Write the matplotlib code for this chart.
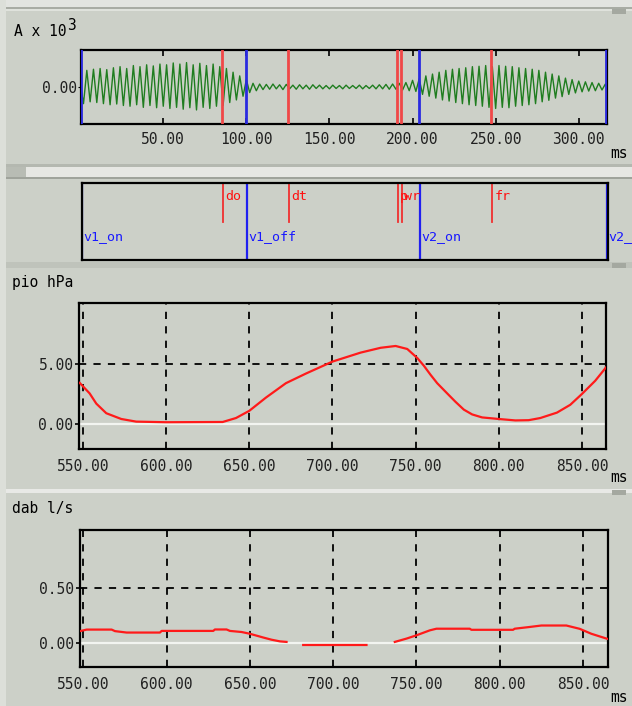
import numpy as np
import matplotlib.pyplot as plt
from matplotlib.patches import Rectangle

# label boundaries (ms) shared by waveform panel and label tier
red_times = [85.3, 125.0, 190.4, 192.8, 247.4]
red_names = ["do", "dt", "p", "wr", "fr"]
blue_times = [0.6, 99.7, 203.6, 316.5]
blue_names = ["v1_on", "v1_off", "v2_on", "v2_off"]

# waveform, one (peak, trough) pair every 4 ms, A x 10^3
wave_pairs = [
    (0.10, -0.45), (0.45, -0.40), (0.48, -0.42), (0.50, -0.45), (0.47, -0.48),
    (0.52, -0.46), (0.55, -0.50), (0.50, -0.52), (0.58, -0.48), (0.55, -0.55),
    (0.60, -0.50), (0.57, -0.56), (0.62, -0.52), (0.60, -0.58), (0.65, -0.55),
    (0.62, -0.60), (0.66, -0.56), (0.60, -0.62), (0.64, -0.55), (0.58, -0.58),
    (0.62, -0.52), (0.55, -0.50), (0.50, -0.42), (0.40, -0.35), (0.30, -0.25),
    (0.20, -0.15), (0.10, -0.10),
    (0.08, -0.07), (0.07, -0.06), (0.08, -0.05), (0.06, -0.07), (0.07, -0.05),
    (0.05, -0.06), (0.06, -0.05), (0.05, -0.06), (0.06, -0.04), (0.05, -0.05),
    (0.04, -0.05), (0.05, -0.04), (0.04, -0.05), (0.05, -0.04), (0.04, -0.04),
    (0.05, -0.05), (0.04, -0.04), (0.05, -0.05), (0.06, -0.05), (0.07, -0.06),
    (0.08, -0.06),
    (0.10, -0.08), (0.12, -0.10), (0.18, -0.12), (0.22, -0.20), (0.30, -0.25),
    (0.35, -0.30), (0.40, -0.35), (0.45, -0.38), (0.48, -0.42), (0.50, -0.45),
    (0.52, -0.48), (0.55, -0.50), (0.56, -0.52), (0.58, -0.55), (0.55, -0.58),
    (0.58, -0.55), (0.56, -0.56), (0.55, -0.52), (0.52, -0.50), (0.50, -0.48),
    (0.48, -0.45), (0.45, -0.40), (0.40, -0.36), (0.35, -0.30), (0.30, -0.26),
    (0.24, -0.20), (0.20, -0.16), (0.16, -0.13), (0.14, -0.11), (0.12, -0.10),
    (0.10, -0.08), (0.08, -0.05),
]
wave_step = 2.0  # ms between samples

# intraoral pressure (hPa)
pio_t = [548, 554, 558, 564, 573, 582, 600, 634, 642, 650, 660, 672, 684, 700,
         717, 729, 738, 745, 751, 755, 759, 763, 769, 774, 779, 784, 790, 800,
         810, 818, 825, 835, 843, 850, 858, 865]
pio_v = [3.43, 2.55, 1.7, 0.9, 0.42, 0.2, 0.15, 0.17, 0.5, 1.1, 2.2, 3.4, 4.2,
         5.2, 5.95, 6.35, 6.5, 6.25, 5.5, 4.85, 4.1, 3.4, 2.55, 1.85, 1.2, 0.8,
         0.55, 0.42, 0.30, 0.32, 0.5, 0.95, 1.6, 2.5, 3.6, 4.8]

# airflow (l/s), nan = gaps
nan = np.nan
dab_t = [548, 552, 567, 569, 576, 596, 597, 628, 629, 636, 638, 645, 650, 658,
         663, 668, 672, nan, 682, 720, nan, 737, 744, 750, 758, 762, 782, 783,
         808, 809, 817, 825, 840, 848, 855, 865]
dab_v = [0.108, 0.122, 0.122, 0.108, 0.095, 0.095, 0.11, 0.11, 0.123, 0.123,
         0.11, 0.10, 0.084, 0.05, 0.03, 0.015, 0.01, nan, -0.018, -0.018, nan,
         0.01, 0.04, 0.07, 0.115, 0.13, 0.13, 0.12, 0.12, 0.13, 0.144, 0.159,
         0.159, 0.129, 0.084, 0.036]

W, H = 632, 706
bg = '#ccd0c8'
mono = 'DejaVu Sans Mono'
fs = 10.5

fig = plt.figure(figsize=(W / 100, H / 100), dpi=100)
fig.patch.set_facecolor(bg)


def box(x0, y0, x1, y1):
    # pixel box (top-left origin) -> figure fraction rect
    return [x0 / W, 1 - y1 / H, (x1 - x0) / W, (y1 - y0) / H]


def rect(x0, y0, x1, y1, color, z=0):
    fig.add_artist(Rectangle((x0 / W, 1 - y1 / H), (x1 - x0) / W, (y1 - y0) / H,
                             transform=fig.transFigure, color=color, zorder=z, lw=0))


# window chrome: top strip, separators and panel borders
rect(0, 0, W, 8, '#e2e4e0')
rect(0, 7, W, 9, '#a8aca4')
rect(0, 0, 6, H, '#dcdfd9')
rect(6, 9, W, 11, '#dfe2dc')
rect(6, 164, W, 167, '#b4b8b0')
rect(6, 167, W, 178, '#e6e7e3')
rect(6, 167, 26, 178, '#b8bcb4')
rect(6, 177, W, 179, '#9fa39b')
rect(6, 262, W, 268, '#bfc3bb')
rect(6, 489, W, 493, '#e8e9e6')
for yy in [8, 262, 489]:
    rect(612, yy + 1, 626, yy + 6, '#a4a8a0')


def style_spines(ax):
    ax.set_facecolor(bg)
    for s in ax.spines.values():
        s.set_linewidth(1.6)
        s.set_color('black')


# --- waveform panel ---
wave = [v for pair in wave_pairs for v in pair]
wave_t = np.arange(len(wave)) * wave_step
axA = fig.add_axes(box(81, 50, 607, 124))
style_spines(axA)
axA.plot(wave_t, wave, color='#1f7d1f', lw=1.0, zorder=2)
for t in red_times:
    axA.axvline(t, color='#f04848', lw=2, zorder=3)
for t in blue_times:
    axA.axvline(t, color='#2a2ae0', lw=2, zorder=3)
axA.set_xlim(0.5, 317)
axA.set_ylim(-1, 1)
axA.set_xticks([50, 100, 150, 200, 250, 300])
axA.set_xticklabels(['%.2f' % v for v in [50, 100, 150, 200, 250, 300]])
axA.set_yticks([0])
axA.set_yticklabels(['0.00'])
axA.tick_params(axis='x', direction='in', top=True, length=4, width=1.2, pad=6)
axA.tick_params(axis='y', length=2, pad=1)
fig.text(14 / W, 1 - 32 / H, 'A x 10', family=mono, fontsize=fs, va='center')
fig.text(67 / W, 1 - 26 / H, '3', family=mono, fontsize=fs, va='center')
fig.text(619 / W, 1 - 153 / H, 'ms', family=mono, fontsize=fs, ha='center', va='center')

# --- label tier ---
axB = fig.add_axes(box(82, 183, 608, 260))
style_spines(axB)
axB.set_xlim(0.5, 317)
axB.set_ylim(0, 1)
axB.set_xticks([])
axB.set_yticks([])
for t, name in zip(red_times, red_names):
    axB.axvline(t, ymin=0.49, ymax=1, color='#f03030', lw=1.3)
    axB.text(t + 1.2, 0.82, name, color='#ff1010', family=mono, fontsize=9.5, va='center')
for t, name in zip(blue_times, blue_names):
    axB.axvline(t, color='#2020f0', lw=1.6)
    axB.text(t + 1.0, 0.30, name, color='#1818ff', family=mono, fontsize=9.5, va='center')

# --- pio and dab panels ---
xt = [550, 600, 650, 700, 750, 800, 850]


def signal_panel(rect_px, xlim, ylim, ytick, ytick_label, t, v, title, title_y, ms_y):
    ax = fig.add_axes(box(*rect_px))
    style_spines(ax)
    ax.axhline(0, color='#f2f4f0', lw=1.6, zorder=1)
    for x in xt:
        ax.axvline(x, color='black', lw=1.3, ls=(0, (4, 4)), zorder=2)
    ax.axhline(ytick, color='black', lw=1.3, ls=(0, (4, 4)), zorder=2)
    ax.plot(t, v, color='#ff1a1a', lw=1.6, zorder=3)
    ax.set_xlim(*xlim)
    ax.set_ylim(*ylim)
    ax.set_xticks(xt)
    ax.set_xticklabels(['%.2f' % x for x in xt])
    ax.set_yticks([0, ytick])
    ax.set_yticklabels(['0.00', ytick_label])
    ax.tick_params(axis='x', length=0, pad=7)
    ax.tick_params(axis='y', length=3, width=1.2, pad=1)
    fig.text(12 / W, 1 - title_y / H, title, family=mono, fontsize=fs, va='center')
    fig.text(619 / W, 1 - ms_y / H, 'ms', family=mono, fontsize=fs, ha='center', va='center')
    return ax


axC = signal_panel((79, 303, 606, 449), (547.6, 864.5), (-2.08, 10.08), 5, '5.00',
                   pio_t, pio_v, 'pio hPa', 282, 478)
axD = signal_panel((80, 530, 608, 667), (548, 865), (-0.218, 1.027), 0.5, '0.50',
                   dab_t, dab_v, 'dab l/s', 508, 697)

for ax in [axA, axC, axD]:
    for lab in ax.get_xticklabels() + ax.get_yticklabels():
        lab.set_family(mono)
        lab.set_fontsize(fs)
        lab.set_color('#202020')

fig.savefig('out.png', dpi=100, facecolor=bg)
